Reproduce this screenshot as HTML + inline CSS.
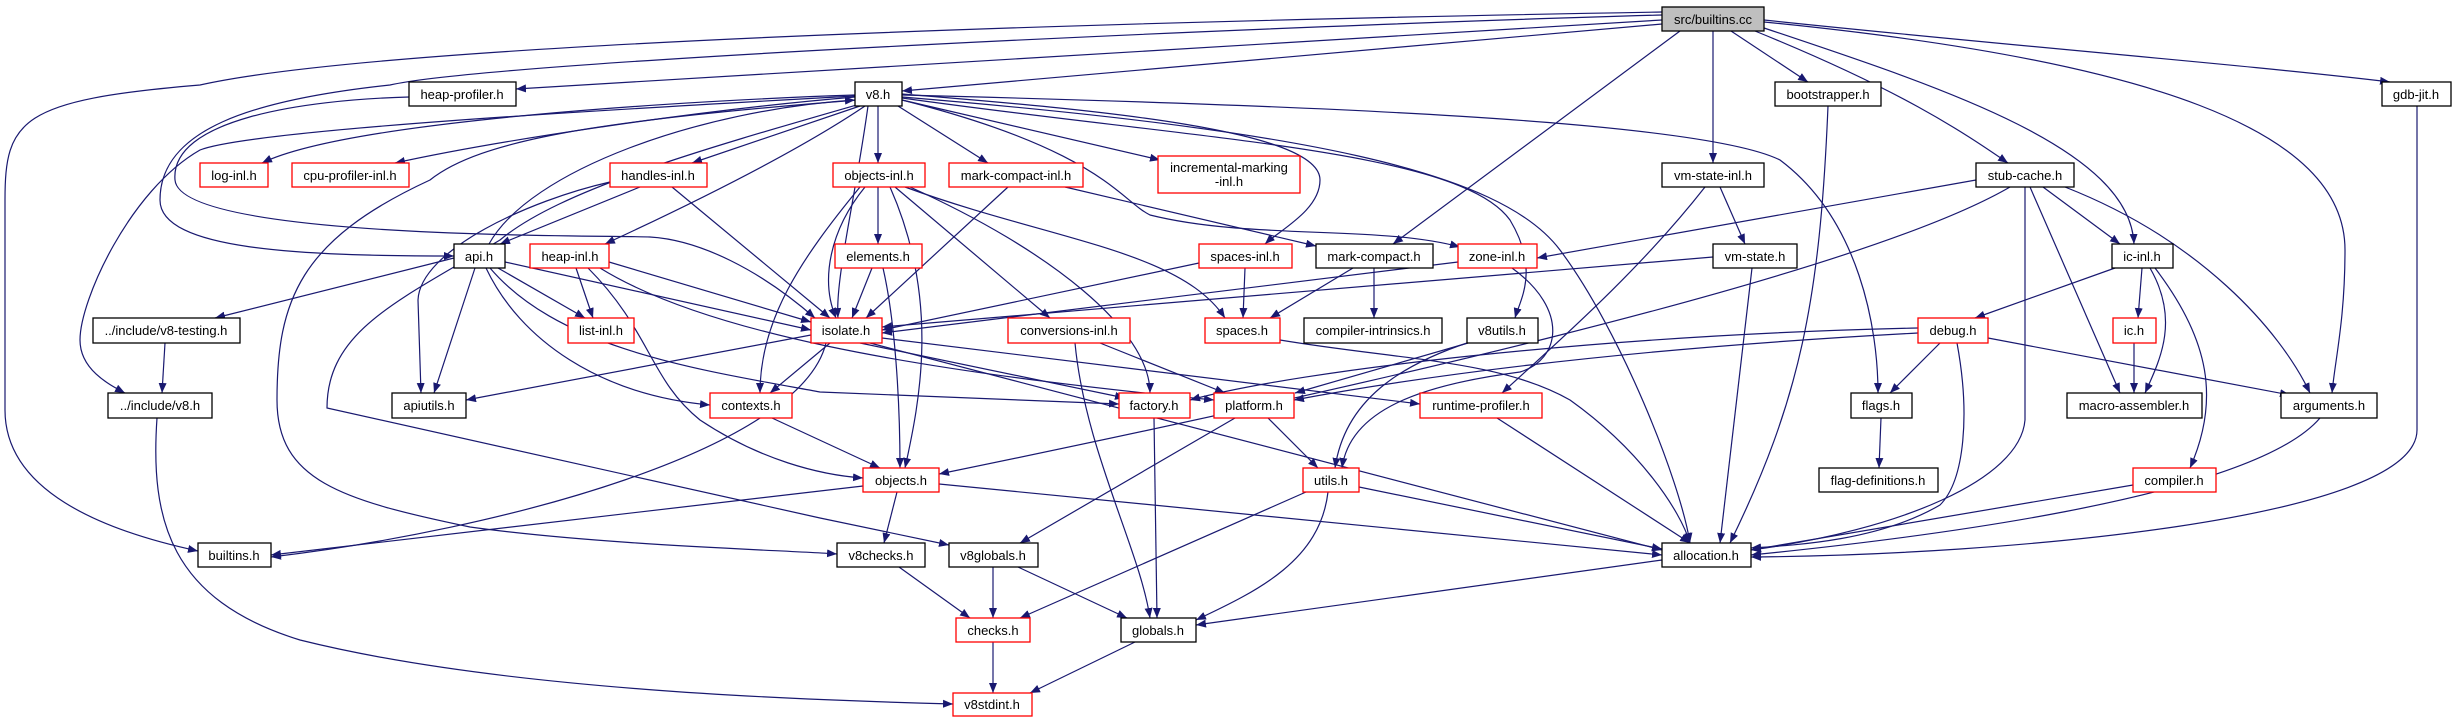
<!DOCTYPE html>
<html><head><meta charset="utf-8"><style>
html,body{margin:0;padding:0;background:#fff}
svg{display:block}
text{font-family:"Liberation Sans",Arial,sans-serif;font-size:13px;fill:#000}
.e{fill:none;stroke:#191970;stroke-width:1.2;marker-end:url(#a)}
.b{fill:#fff;stroke:#000;stroke-width:1.3}
.r{fill:#fff;stroke:#ff0000;stroke-width:1.3}
</style></head><body>
<svg width="2456" height="723" viewBox="0 0 2456 723" xmlns="http://www.w3.org/2000/svg">
<defs><marker id="a" markerUnits="userSpaceOnUse" markerWidth="11" markerHeight="9" refX="10" refY="4" orient="auto"><path d="M0,0 L10,4 L0,8 z" fill="#191970"/></marker></defs>
<g>
<path class="e" d="M1662,12 C1200,20 400,40 200,85 C20,100 5,120 5,200 L5,410 C5,490 100,530 198,551"/>
<path class="e" d="M1662,15 C1300,25 500,60 390,85 C250,100 160,130 160,200 C160,250 300,256 454,256"/>
<path class="e" d="M1662,20 L516,89"/>
<path class="e" d="M1662,24 L902,91"/>
<path class="e" d="M1680,31 L1393,244"/>
<path class="e" d="M1713,31 L1713,163"/>
<path class="e" d="M1731,31 L1808,82"/>
<path class="e" d="M1755,31 C1900,90 1960,130 2008,163"/>
<path class="e" d="M1764,28 C1950,90 2130,150 2134,244"/>
<path class="e" d="M1764,22 C2150,60 2345,130 2345,250 C2345,320 2335,360 2332,393"/>
<path class="e" d="M1764,20 C2000,45 2250,65 2390,82"/>
<path class="e" d="M409,97 C300,100 170,120 175,180 C180,240 600,235 650,237 C700,240 760,270 815,318"/>
<path class="e" d="M855,95 C700,100 350,120 262,163"/>
<path class="e" d="M855,97 C700,110 500,140 395,163"/>
<path class="e" d="M860,106 L692,163"/>
<path class="e" d="M865,106 C800,150 700,200 605,244"/>
<path class="e" d="M489,244 C530,170 700,110 855,100"/>
<path class="e" d="M878,106 L878,163"/>
<path class="e" d="M898,106 L988,163"/>
<path class="e" d="M902,100 L1160,160"/>
<path class="e" d="M902,94 C1100,110 1320,130 1320,180 C1320,210 1280,230 1265,244"/>
<path class="e" d="M902,100 C1100,150 1120,200 1150,215 C1250,240 1380,225 1460,247"/>
<path class="e" d="M902,98 C1200,140 1460,150 1510,220 C1540,270 1520,300 1515,318"/>
<path class="e" d="M902,95 C1300,105 1700,120 1780,160 C1860,220 1878,330 1878,393"/>
<path class="e" d="M902,97 C1300,130 1500,170 1560,250 C1620,330 1680,480 1690,543"/>
<path class="e" d="M855,96 C600,110 250,130 200,150 C130,190 80,300 80,340 C80,370 110,385 125,393"/>
<path class="e" d="M858,100 C600,120 480,140 430,180 C300,240 277,300 277,400 C277,480 340,500 470,527 C600,545 780,550 837,554"/>
<path class="e" d="M860,104 C700,150 560,190 500,240 C400,300 327,330 327,408 L820,518 L949,545"/>
<path class="e" d="M868,106 C855,200 835,280 838,318"/>
<path class="e" d="M640,187 L500,244"/>
<path class="e" d="M610,182 C530,200 420,250 418,300 L421,393"/>
<path class="e" d="M672,187 L830,318"/>
<path class="e" d="M454,258 L215,318"/>
<path class="e" d="M498,268 L585,318"/>
<path class="e" d="M505,262 L811,330"/>
<path class="e" d="M475,268 L434,393"/>
<path class="e" d="M486,268 C520,340 600,395 710,405"/>
<path class="e" d="M490,268 C560,350 700,370 820,392 L1119,404"/>
<path class="e" d="M576,268 L593,318"/>
<path class="e" d="M609,262 L811,322"/>
<path class="e" d="M588,268 C650,330 650,380 700,420 C760,460 820,475 863,478"/>
<path class="e" d="M600,268 C700,330 900,370 1214,400"/>
<path class="e" d="M165,343 L162,393"/>
<path class="e" d="M157,418 C150,520 170,600 300,640 C500,690 800,700 953,704"/>
<path class="e" d="M878,187 L878,244"/>
<path class="e" d="M865,187 C830,230 820,280 836,318"/>
<path class="e" d="M860,187 C800,260 760,320 760,393"/>
<path class="e" d="M890,187 C940,300 920,400 905,468"/>
<path class="e" d="M895,187 L1050,318"/>
<path class="e" d="M905,187 C1050,240 1180,250 1225,318"/>
<path class="e" d="M910,187 C1050,250 1150,330 1150,393"/>
<path class="e" d="M872,268 L852,318"/>
<path class="e" d="M883,268 C895,320 900,400 900,468"/>
<path class="e" d="M1008,187 L866,318"/>
<path class="e" d="M1065,187 L1316,246"/>
<path class="e" d="M1199,263 L882,330"/>
<path class="e" d="M1245,268 L1243,318"/>
<path class="e" d="M1353,268 L1270,318"/>
<path class="e" d="M1374,268 L1374,318"/>
<path class="e" d="M1458,262 L882,333"/>
<path class="e" d="M1512,268 C1570,310 1560,360 1520,372 C1420,385 1350,410 1342,468"/>
<path class="e" d="M1976,180 L1537,258"/>
<path class="e" d="M2010,187 C1850,280 1300,400 939,474"/>
<path class="e" d="M2043,187 L2120,244"/>
<path class="e" d="M2030,187 L2120,393"/>
<path class="e" d="M2065,187 C2200,240 2280,330 2310,393"/>
<path class="e" d="M2025,187 L2025,420 C2020,480 1900,530 1751,550"/>
<path class="e" d="M1720,187 L1745,244"/>
<path class="e" d="M1705,187 C1640,270 1560,340 1502,393"/>
<path class="e" d="M1713,257 L882,327"/>
<path class="e" d="M1752,268 L1720,543"/>
<path class="e" d="M1828,106 C1820,300 1800,400 1730,543"/>
<path class="e" d="M2417,106 L2417,430 C2417,520 2000,555 1751,557"/>
<path class="e" d="M2115,268 L1975,318"/>
<path class="e" d="M2142,268 L2138,318"/>
<path class="e" d="M2150,268 C2180,320 2160,360 2145,393"/>
<path class="e" d="M2155,268 C2210,340 2220,400 2190,468"/>
<path class="e" d="M1918,328 C1600,335 1300,370 1190,400"/>
<path class="e" d="M1918,333 C1600,350 1400,380 1294,400"/>
<path class="e" d="M1940,343 L1890,393"/>
<path class="e" d="M1988,338 L2290,395"/>
<path class="e" d="M1957,343 C1970,413 1965,480 1940,505 C1880,540 1800,545 1751,548"/>
<path class="e" d="M2134,343 L2134,393"/>
<path class="e" d="M1881,418 L1879,468"/>
<path class="e" d="M2133,485 L1751,550"/>
<path class="e" d="M2320,418 C2250,500 1900,540 1751,555"/>
<path class="e" d="M811,335 L466,400"/>
<path class="e" d="M830,343 L770,393"/>
<path class="e" d="M860,343 L1125,398"/>
<path class="e" d="M882,338 L1420,404"/>
<path class="e" d="M826,343 C800,450 500,530 271,557"/>
<path class="e" d="M870,343 L1662,550"/>
<path class="e" d="M1100,343 L1225,393"/>
<path class="e" d="M1075,343 C1085,450 1140,550 1150,618"/>
<path class="e" d="M1280,340 C1400,360 1500,360 1570,400 C1640,450 1680,510 1690,543"/>
<path class="e" d="M1468,343 L1295,393"/>
<path class="e" d="M1470,342 C1400,365 1345,400 1335,468"/>
<path class="e" d="M772,418 L880,468"/>
<path class="e" d="M1154,418 L1157,618"/>
<path class="e" d="M1268,418 L1318,468"/>
<path class="e" d="M1235,418 L1020,543"/>
<path class="e" d="M1497,418 L1690,543"/>
<path class="e" d="M863,486 L271,555"/>
<path class="e" d="M897,492 L884,543"/>
<path class="e" d="M939,484 L1662,555"/>
<path class="e" d="M1306,492 L1020,618"/>
<path class="e" d="M1328,492 C1320,560 1260,590 1196,620"/>
<path class="e" d="M1359,487 L1662,549"/>
<path class="e" d="M899,567 L970,618"/>
<path class="e" d="M993,567 L993,618"/>
<path class="e" d="M1018,567 L1127,618"/>
<path class="e" d="M993,642 L993,693"/>
<path class="e" d="M1135,642 L1030,693"/>
<path class="e" d="M1662,560 L1196,625"/>
</g>
<g text-anchor="middle">
<rect x="1662" y="7" width="102" height="24" fill="#bfbfbf" stroke="#000" stroke-width="1.3"/><text x="1713" y="24">src/builtins.cc</text>
<rect class="b" x="409" y="82" width="107" height="24"/><text x="462" y="99">heap-profiler.h</text>
<rect class="b" x="855" y="82" width="47" height="24"/><text x="878" y="99">v8.h</text>
<rect class="b" x="1775" y="82" width="106" height="24"/><text x="1828" y="99">bootstrapper.h</text>
<rect class="b" x="2382" y="82" width="69" height="24"/><text x="2416" y="99">gdb-jit.h</text>
<rect class="r" x="200" y="163" width="68" height="24"/><text x="234" y="180">log-inl.h</text>
<rect class="r" x="292" y="163" width="117" height="24"/><text x="350" y="180">cpu-profiler-inl.h</text>
<rect class="r" x="610" y="163" width="97" height="24"/><text x="658" y="180">handles-inl.h</text>
<rect class="r" x="833" y="163" width="92" height="24"/><text x="879" y="180">objects-inl.h</text>
<rect class="r" x="949" y="163" width="134" height="24"/><text x="1016" y="180">mark-compact-inl.h</text>
<rect class="r" x="1158" y="156" width="142" height="37"/><text x="1229" y="172">incremental-marking</text><text x="1229" y="186">-inl.h</text>
<rect class="b" x="1662" y="163" width="102" height="24"/><text x="1713" y="180">vm-state-inl.h</text>
<rect class="b" x="1976" y="163" width="98" height="24"/><text x="2025" y="180">stub-cache.h</text>
<rect class="b" x="454" y="244" width="51" height="24"/><text x="479" y="261">api.h</text>
<rect class="r" x="530" y="244" width="79" height="24"/><text x="570" y="261">heap-inl.h</text>
<rect class="r" x="835" y="244" width="87" height="24"/><text x="878" y="261">elements.h</text>
<rect class="r" x="1199" y="244" width="93" height="24"/><text x="1245" y="261">spaces-inl.h</text>
<rect class="b" x="1316" y="244" width="117" height="24"/><text x="1374" y="261">mark-compact.h</text>
<rect class="r" x="1458" y="244" width="79" height="24"/><text x="1497" y="261">zone-inl.h</text>
<rect class="b" x="1713" y="244" width="84" height="24"/><text x="1755" y="261">vm-state.h</text>
<rect class="b" x="2112" y="244" width="61" height="24"/><text x="2142" y="261">ic-inl.h</text>
<rect class="b" x="93" y="318" width="147" height="25"/><text x="166" y="335">../include/v8-testing.h</text>
<rect class="r" x="568" y="318" width="66" height="25"/><text x="601" y="335">list-inl.h</text>
<rect class="r" x="811" y="318" width="71" height="25"/><text x="846" y="335">isolate.h</text>
<rect class="r" x="1008" y="318" width="122" height="25"/><text x="1069" y="335">conversions-inl.h</text>
<rect class="r" x="1205" y="318" width="75" height="25"/><text x="1242" y="335">spaces.h</text>
<rect class="b" x="1304" y="318" width="138" height="25"/><text x="1373" y="335">compiler-intrinsics.h</text>
<rect class="b" x="1467" y="318" width="71" height="25"/><text x="1502" y="335">v8utils.h</text>
<rect class="r" x="1918" y="318" width="70" height="25"/><text x="1953" y="335">debug.h</text>
<rect class="r" x="2113" y="318" width="43" height="25"/><text x="2134" y="335">ic.h</text>
<rect class="b" x="108" y="393" width="104" height="25"/><text x="160" y="410">../include/v8.h</text>
<rect class="b" x="392" y="393" width="74" height="25"/><text x="429" y="410">apiutils.h</text>
<rect class="r" x="710" y="393" width="82" height="25"/><text x="751" y="410">contexts.h</text>
<rect class="r" x="1119" y="393" width="71" height="25"/><text x="1154" y="410">factory.h</text>
<rect class="r" x="1214" y="393" width="80" height="25"/><text x="1254" y="410">platform.h</text>
<rect class="r" x="1420" y="393" width="122" height="25"/><text x="1481" y="410">runtime-profiler.h</text>
<rect class="b" x="1851" y="393" width="61" height="25"/><text x="1881" y="410">flags.h</text>
<rect class="b" x="2067" y="393" width="135" height="25"/><text x="2134" y="410">macro-assembler.h</text>
<rect class="b" x="2281" y="393" width="96" height="25"/><text x="2329" y="410">arguments.h</text>
<rect class="r" x="863" y="468" width="76" height="24"/><text x="901" y="485">objects.h</text>
<rect class="r" x="1303" y="468" width="56" height="24"/><text x="1331" y="485">utils.h</text>
<rect class="b" x="1819" y="468" width="119" height="24"/><text x="1878" y="485">flag-definitions.h</text>
<rect class="r" x="2133" y="468" width="83" height="24"/><text x="2174" y="485">compiler.h</text>
<rect class="b" x="198" y="543" width="73" height="24"/><text x="234" y="560">builtins.h</text>
<rect class="b" x="837" y="543" width="88" height="24"/><text x="881" y="560">v8checks.h</text>
<rect class="b" x="949" y="543" width="89" height="24"/><text x="993" y="560">v8globals.h</text>
<rect class="b" x="1662" y="543" width="89" height="24"/><text x="1706" y="560">allocation.h</text>
<rect class="r" x="956" y="618" width="74" height="24"/><text x="993" y="635">checks.h</text>
<rect class="b" x="1121" y="618" width="75" height="24"/><text x="1158" y="635">globals.h</text>
<rect class="r" x="953" y="693" width="79" height="23"/><text x="992" y="709">v8stdint.h</text>
</g>
</svg>
</body></html>
